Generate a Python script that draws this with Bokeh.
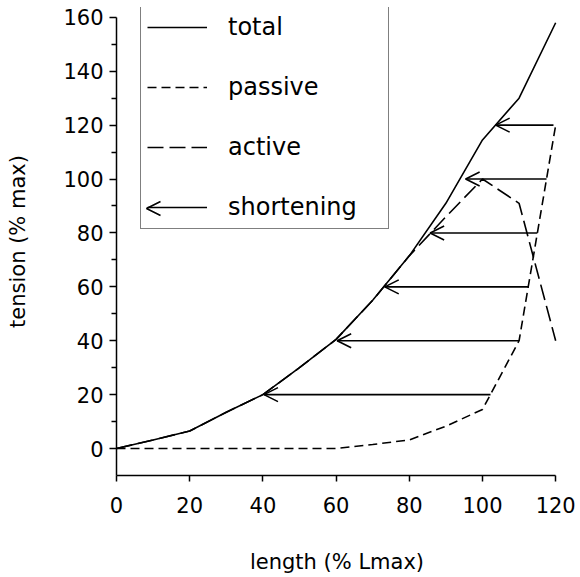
from bokeh.plotting import figure
from bokeh.models import (Range1d, FixedTicker, Legend, LegendItem, Arrow, OpenHead,
                          ColumnDataSource)
from bokeh.embed import file_html
from bokeh.resources import INLINE

# ---- data ----
length = [0, 10, 20, 30, 40, 50, 60, 70, 80, 90, 100, 110, 120]
total = [0, 3.2, 6.5, 13.5, 20, 30, 40.5, 55, 71.5, 91, 114.5, 130, 158]
passive = [0, 0, 0, 0, 0, 0, 0, 1.5, 3.2, 8.3, 14.5, 40, 120]
active = [0, 3.2, 6.5, 13.5, 20, 30, 40.5, 55, 71.5, 86, 100, 91, 40]

arrow_tension = [20, 40, 60, 80, 100, 120]
arrow_from = [102.2, 110, 112.7, 115, 117.5, 119.4]
arrow_to = [40.3, 60.3, 73.3, 85.7, 95.4, 103.6]

x_ticks = [0, 20, 40, 60, 80, 100, 120]
y_ticks = [0, 20, 40, 60, 80, 100, 120, 140, 160]
y_minor_ticks = [10, 30, 50, 70, 90, 110, 130, 150]

FONT = "DejaVu Sans"

p = figure(width=578, height=576,
           x_range=Range1d(0, 120.5), y_range=Range1d(-10, 163.65),
           output_backend="svg", toolbar_location=None,
           min_border_left=116, min_border_right=21,
           min_border_top=7, min_border_bottom=101)
p.grid.visible = False
p.outline_line_color = None
p.background_fill_color = "white"
p.border_fill_color = "white"

# axes
for ax in (p.xaxis, p.yaxis):
    ax.axis_line_color = "black"
    ax.axis_line_width = 1.5
    ax.major_tick_line_color = "black"
    ax.major_tick_line_width = 1.5
    ax.minor_tick_line_color = "black"
    ax.minor_tick_line_width = 1.5
    ax.major_tick_in = 0
    ax.minor_tick_in = 0
    ax.major_label_text_font = FONT
    ax.major_label_text_font_size = "21px"
    ax.major_label_text_color = "black"
    ax.axis_label_text_font = FONT
    ax.axis_label_text_font_size = "21px"
    ax.axis_label_text_font_style = "normal"
    ax.axis_label_text_color = "black"

p.xaxis.ticker = FixedTicker(ticks=x_ticks, minor_ticks=[])
p.xaxis.bounds = (0, 120)
p.xaxis.major_tick_out = 6
p.xaxis.minor_tick_out = 0
p.xaxis.major_label_standoff = 15
p.xaxis.axis_label = "length (% Lmax)"
p.xaxis.axis_label_standoff = 34

p.yaxis.ticker = FixedTicker(ticks=y_ticks, minor_ticks=y_minor_ticks)
p.yaxis.bounds = (-10, 160)
p.yaxis.major_tick_out = 7
p.yaxis.minor_tick_out = 5
p.yaxis.major_label_standoff = 6
p.yaxis.axis_label = "tension (% max)"
p.yaxis.axis_label_standoff = 30

# curves
r_total = p.line(length, total, line_color="black", line_width=1.6)
r_passive = p.line(length, passive, line_color="black", line_width=1.6, line_dash="9 5")
r_active = p.line(length, active, line_color="black", line_width=1.6, line_dash="16 6")

# shortening arrows
asrc = ColumnDataSource(dict(x0=arrow_from, x1=arrow_to, y=arrow_tension))
r_short = p.segment(x0="x0", y0="y", x1="x1", y1="y", source=asrc,
                    line_color="black", line_width=1.6)
p.add_layout(Arrow(end=OpenHead(size=14, line_width=1.6, line_color="black"),
                   source=asrc, x_start="x0", y_start="y", x_end="x1", y_end="y",
                   line_alpha=0))

# legend
legend = Legend(items=[
    LegendItem(label="total", renderers=[r_total]),
    LegendItem(label="passive", renderers=[r_passive]),
    LegendItem(label="active", renderers=[r_active]),
    LegendItem(label="shortening", renderers=[r_short]),
], location=(24, 246), orientation="vertical",
    border_line_color="black", border_line_width=1.5,
    background_fill_alpha=0.0,
    label_text_font=FONT, label_text_font_size="24px", label_text_color="black",
    glyph_width=60, glyph_height=30, label_height=30, label_standoff=21,
    spacing=30, padding=6, margin=0, label_width=154)
p.add_layout(legend)

# arrow head for the legend sample (legend decoration, frame-relative screen units)
p.add_layout(Arrow(end=OpenHead(size=14, line_width=1.6, line_color="black"),
                   start_units="screen", end_units="screen",
                   x_start=90, y_start=267, x_end=30, y_end=267,
                   line_alpha=0, level="overlay"))

open("out.html", "w").write(file_html(p, INLINE))
